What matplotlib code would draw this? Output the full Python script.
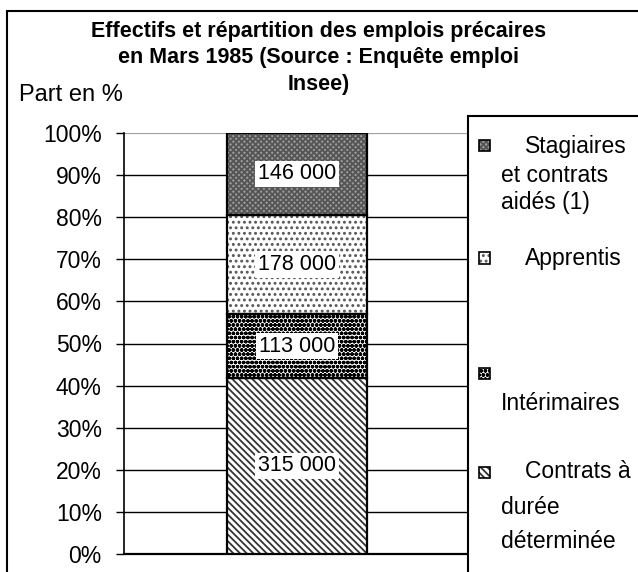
import matplotlib
matplotlib.use("Agg")
import matplotlib.pyplot as plt
from matplotlib.patches import Rectangle
import numpy as np

# ---- data ----
categories = ["Contrats à durée déterminée", "Intérimaires", "Apprentis",
              "Stagiaires et contrats aidés (1)"]
effectifs = [315000, 113000, 178000, 146000]
yticks = [0, 10, 20, 30, 40, 50, 60, 70, 80, 90, 100]
ytick_labels = [f"{t}%" for t in yticks]
title_lines = ["Effectifs et répartition des emplois précaires",
               "en Mars 1985 (Source : Enquête emploi",
               "Insee)"]
ylabel = "Part en %"
legend_first = {
    "Stagiaires et contrats aidés (1)": "Stagiaires",
    "Apprentis": "Apprentis",
    "Intérimaires": None,
    "Contrats à durée déterminée": "Contrats à",
}
legend_rest = {
    "Stagiaires et contrats aidés (1)": ["et contrats", "aidés (1)"],
    "Apprentis": [],
    "Intérimaires": ["Intérimaires"],
    "Contrats à durée déterminée": ["durée", "déterminée"],
}

# ---- styles ----
faces = ["white", "white", "white", "#9a9a9a"]
hcols = ["#333333", "black", "#555555", "#555555"]
hatches = ["\\\\\\\\\\", "oooo", "...", "xxxxxx"]

plt.rcParams["font.family"] = ["Liberation Sans", "DejaVu Sans"]
plt.rcParams["hatch.linewidth"] = 1.3

W, H = 638, 572
fig = plt.figure(figsize=(W / 100, H / 100), dpi=100)


def fx(px):
    return px / W


def fy(py):
    return 1 - py / H


# outer frame
fig.add_artist(Rectangle((fx(7), fy(620)), fx(700) - fx(7), fy(11) - fy(620),
                         transform=fig.transFigure, fill=False, edgecolor="black",
                         linewidth=1.5, zorder=0))

ax = fig.add_axes([fx(124), fy(554), fx(470) - fx(124), fy(133) - fy(554)])
shares = np.array(effectifs, dtype=float) / np.sum(effectifs) * 100
bottoms = np.concatenate([[0], np.cumsum(shares)[:-1]])
bw = 0.405
for i in range(len(effectifs)):
    ax.bar(0, shares[i], bottom=bottoms[i], width=bw, color=faces[i],
           edgecolor=hcols[i], hatch=hatches[i], linewidth=0, zorder=3)
    ax.bar(0, shares[i], bottom=bottoms[i], width=bw, fill=False,
           edgecolor="black", linewidth=1.6, zorder=4)
    lab = f"{effectifs[i]:,}".replace(",", " ")
    ax.text(0, bottoms[i] + shares[i] / 2, lab, ha="center", va="center",
            fontsize=15.5, zorder=5,
            bbox=dict(facecolor="white", edgecolor="none", pad=2))

ax.set_xlim(-0.5, 0.5)
ax.set_ylim(0, 100)
ax.set_xticks([])
ax.set_yticks(yticks)
ax.set_yticklabels(ytick_labels, fontsize=16.5)
ax.tick_params(axis="y", length=6, width=1, pad=10, direction="out")
for s in ["top", "right"]:
    ax.spines[s].set_visible(False)
ax.spines["left"].set_linewidth(1.2)
ax.spines["bottom"].set_linewidth(1.6)
ax.yaxis.grid(True, color="black", linewidth=1)
ax.get_ygridlines()[-1].set_color("#a0a0a0")
ax.get_ygridlines()[-1].set_linewidth(1.6)
ax.set_axisbelow(True)

# title and y label
for k, line in enumerate(title_lines):
    fig.text(fx(319), fy(31 + 27 * k), line, ha="center", va="center",
             fontsize=15.5, fontweight="bold")
fig.text(fx(19), fy(95), ylabel, ha="left", va="center", fontsize=17)

# legend box
fig.add_artist(Rectangle((fx(468), fy(620)), fx(700) - fx(468), fy(116) - fy(620),
                         transform=fig.transFigure, facecolor="white",
                         edgecolor="black", linewidth=1.5, zorder=5))

marker_y = {"Stagiaires et contrats aidés (1)": 146, "Apprentis": 258,
            "Intérimaires": 373, "Contrats à durée déterminée": 472}
rest_y = {"Stagiaires et contrats aidés (1)": [176, 203],
          "Apprentis": [],
          "Intérimaires": [403],
          "Contrats à durée déterminée": [507, 542]}
for i, cat in enumerate(categories):
    my = marker_y[cat]
    ms = 11
    fig.add_artist(Rectangle((fx(485 - ms / 2), fy(my + ms / 2)), ms / W, ms / H,
                             transform=fig.transFigure, facecolor=faces[i],
                             edgecolor=hcols[i], hatch=hatches[i], linewidth=0,
                             zorder=6))
    fig.add_artist(Rectangle((fx(485 - ms / 2), fy(my + ms / 2)), ms / W, ms / H,
                             transform=fig.transFigure, fill=False,
                             edgecolor="black", linewidth=1.2, zorder=7))
    if legend_first[cat]:
        fig.text(fx(525), fy(my), legend_first[cat], ha="left", va="center",
                 fontsize=16.5, zorder=7)
    for line, ly in zip(legend_rest[cat], rest_y[cat]):
        fig.text(fx(501), fy(ly), line, ha="left", va="center",
                 fontsize=16.5, zorder=7)

fig.savefig("out.png", dpi=100)
